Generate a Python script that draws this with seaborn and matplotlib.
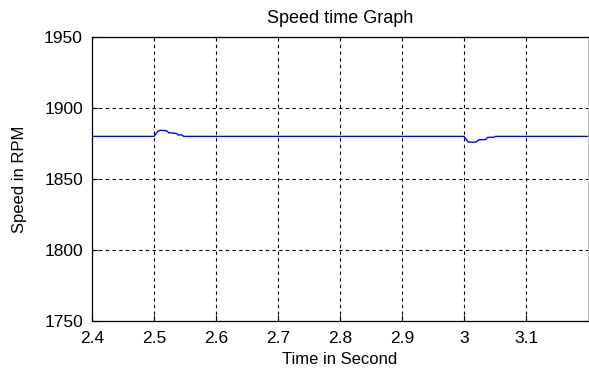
import matplotlib
matplotlib.use("Agg")
import matplotlib.pyplot as plt
import seaborn as sns
import pandas as pd

# Data
time_s = [2.4, 2.5, 2.506, 2.51, 2.52, 2.524, 2.537, 2.539, 2.545, 2.548,
          3.0, 3.007, 3.019, 3.024, 3.035, 3.038, 3.048, 3.051, 3.2]
speed_rpm = [1880, 1880, 1883.5, 1884.3, 1884.0, 1882.6, 1882.0, 1881.0, 1881.0, 1880,
             1880, 1876, 1876, 1877.6, 1877.8, 1879.3, 1879.4, 1880, 1880]
x_ticks = [2.4, 2.5, 2.6, 2.7, 2.8, 2.9, 3.0, 3.1]
x_tick_labels = ["2.4", "2.5", "2.6", "2.7", "2.8", "2.9", "3", "3.1"]
y_ticks = [1750, 1800, 1850, 1900, 1950]
y_tick_labels = ["1750", "1800", "1850", "1900", "1950"]

sns.set_style("ticks")
plt.rcParams["font.family"] = ["Liberation Sans", "DejaVu Sans"]
plt.rcParams["text.color"] = "black"
plt.rcParams["axes.labelcolor"] = "black"

df = pd.DataFrame({"Time": time_s, "Speed": speed_rpm})

fig = plt.figure(figsize=(5.89, 3.73), dpi=100)
ax = fig.add_axes([92 / 589, 52 / 373, 496 / 589, 284 / 373])
sns.lineplot(data=df, x="Time", y="Speed", ax=ax, color="#0000ff", linewidth=1.0,
             estimator=None, sort=False)

ax.set_xlim(2.4, 3.2)
ax.set_ylim(1750, 1950)
ax.set_xticks(x_ticks)
ax.set_xticklabels(x_tick_labels)
ax.set_yticks(y_ticks)
ax.set_yticklabels(y_tick_labels)
ax.tick_params(direction="in", length=4, width=0.8, labelsize=12.5, colors="black")
ax.tick_params(axis="x", pad=7.5)
ax.tick_params(axis="y", pad=6.5)
ax.grid(True, color="black", linestyle=(0, (3, 3)), linewidth=0.8)
for side in ["left", "bottom", "top"]:
    ax.spines[side].set_visible(True)
    ax.spines[side].set_color("black")
    ax.spines[side].set_linewidth(0.9)
ax.spines["right"].set_visible(True)
ax.spines["right"].set_color("#bbbbbb")
ax.spines["right"].set_linewidth(0.8)

ax.set_title("Speed time Graph", fontsize=13, pad=10, color="black")
ax.set_xlabel("Time in Second", fontsize=12, labelpad=4)
ax.set_ylabel("Speed in RPM", fontsize=12, labelpad=12)

fig.savefig("out.png", dpi=100)
